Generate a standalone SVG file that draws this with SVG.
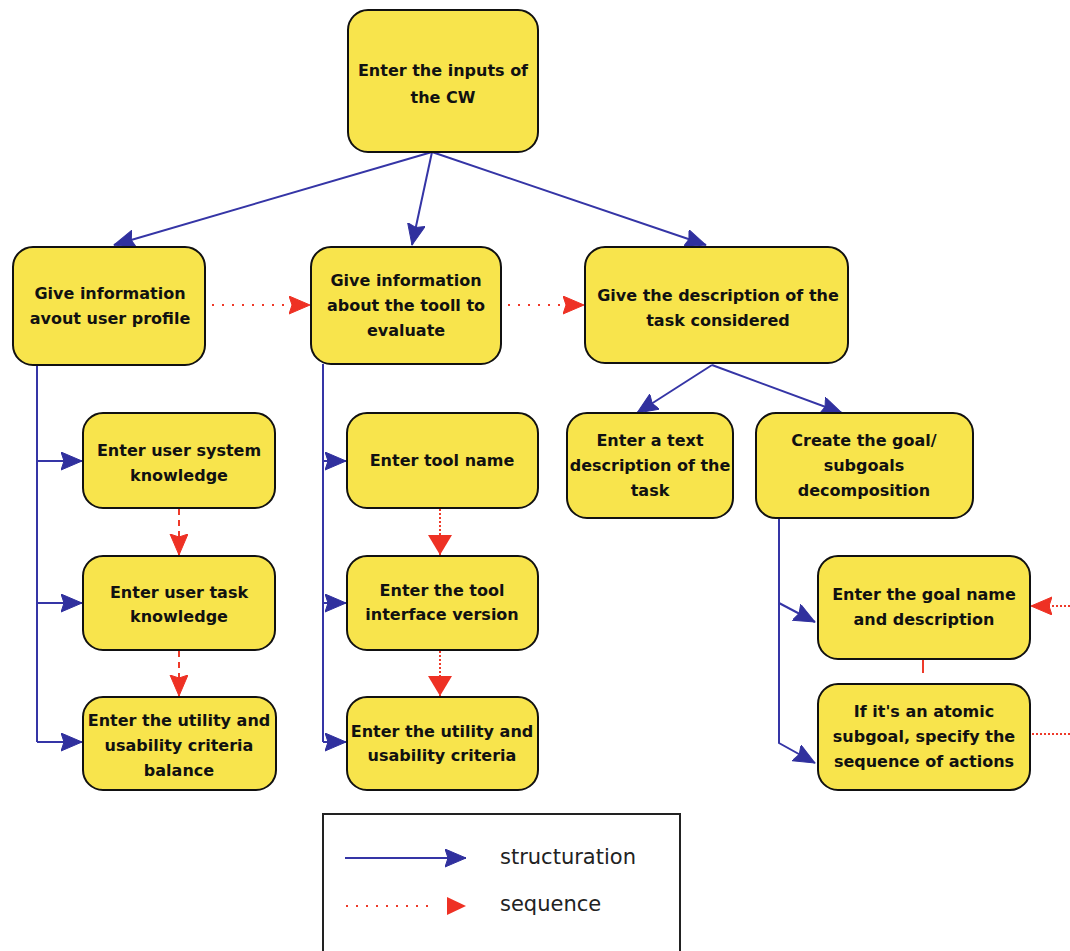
<svg xmlns="http://www.w3.org/2000/svg" width="1070" height="951" viewBox="0 0 1070 951">
  <style>
    .node rect { fill: #F8E44C; stroke: #111; stroke-width: 2; }
    .node text { font-family: "DejaVu Sans", Verdana, sans-serif; font-size: 16px; font-weight: bold; fill: #111; text-anchor: middle; }
    .struct { fill: none; stroke: #3535A6; stroke-width: 2; }
    .seq-dot { fill: none; stroke: #EE3A2A; stroke-width: 2; stroke-dasharray: 2 8; }
    .seq-dash { fill: none; stroke: #EE3A2A; stroke-width: 2; stroke-dasharray: 6 5; }
    .seq-fine { fill: none; stroke: #EE3A2A; stroke-width: 2; stroke-dasharray: 2 2; }
    .seq-solid { fill: none; stroke: #EE3A2A; stroke-width: 2; }
    .legend-text { font-family: "DejaVu Sans", Verdana, sans-serif; font-size: 21px; fill: #222; }
  </style>
  <defs>
    <marker id="blueHead" markerUnits="userSpaceOnUse" markerWidth="24" markerHeight="20" refX="21" refY="9" orient="auto">
      <path d="M0,0 L21,9 L0,18 L3,9 Z" fill="#30309E" stroke="#30309E" stroke-width="1" stroke-linejoin="round"/>
    </marker>
    <marker id="redHead" markerUnits="userSpaceOnUse" markerWidth="24" markerHeight="20" refX="21" refY="9" orient="auto">
      <path d="M0,0 L21,9 L0,18 L3,9 Z" fill="#EE3124" stroke="#EE3124" stroke-width="1" stroke-linejoin="round"/>
    </marker>
    <marker id="redHeadBig" markerUnits="userSpaceOnUse" markerWidth="22" markerHeight="26" refX="20" refY="12" orient="auto">
      <path d="M0,0 L20,12 L0,24 Z" fill="#EE3124"/>
    </marker>
  </defs>

  <!-- connectors -->
  <g id="connectors">
    <!-- top level structuration -->
    <line class="struct" x1="432" y1="152" x2="114" y2="245" marker-end="url(#blueHead)"/>
    <line class="struct" x1="432" y1="152" x2="412" y2="245" marker-end="url(#blueHead)"/>
    <line class="struct" x1="432" y1="152" x2="706" y2="245" marker-end="url(#blueHead)"/>
    <!-- sequence between the three main steps -->
    <line class="seq-dot" x1="212" y1="305" x2="310" y2="305" marker-end="url(#redHead)"/>
    <line class="seq-dot" x1="508" y1="305" x2="584" y2="305" marker-end="url(#redHead)"/>

    <!-- user profile column -->
    <line class="struct" x1="37" y1="365" x2="37" y2="742"/>
    <line class="struct" x1="37" y1="461" x2="82" y2="461" marker-end="url(#blueHead)"/>
    <line class="struct" x1="37" y1="603" x2="82" y2="603" marker-end="url(#blueHead)"/>
    <line class="struct" x1="37" y1="742" x2="82" y2="742" marker-end="url(#blueHead)"/>
    <line class="seq-dash" x1="179" y1="509" x2="179" y2="555" marker-end="url(#redHead)"/>
    <line class="seq-dash" x1="179" y1="651" x2="179" y2="696" marker-end="url(#redHead)"/>

    <!-- tool column -->
    <line class="struct" x1="323" y1="364" x2="323" y2="742"/>
    <line class="struct" x1="323" y1="461" x2="346" y2="461" marker-end="url(#blueHead)"/>
    <line class="struct" x1="323" y1="603" x2="346" y2="603" marker-end="url(#blueHead)"/>
    <line class="struct" x1="323" y1="742" x2="346" y2="742" marker-end="url(#blueHead)"/>
    <line class="seq-fine" x1="440" y1="509" x2="440" y2="555" marker-end="url(#redHeadBig)"/>
    <line class="seq-fine" x1="440" y1="651" x2="440" y2="696" marker-end="url(#redHeadBig)"/>

    <!-- task description -->
    <line class="struct" x1="712" y1="365" x2="637" y2="413" marker-end="url(#blueHead)"/>
    <line class="struct" x1="712" y1="365" x2="842" y2="413" marker-end="url(#blueHead)"/>

    <!-- goal decomposition -->
    <polyline class="struct" points="779,518 779,743 815,763" marker-end="url(#blueHead)"/>
    <polyline class="struct" points="779,603 815,622" marker-end="url(#blueHead)"/>
    <line class="seq-solid" x1="923" y1="659" x2="923" y2="673"/>
    <line class="seq-fine" x1="1070" y1="606" x2="1031" y2="606" marker-end="url(#redHead)"/>
    <line class="seq-fine" x1="1032" y1="734" x2="1070" y2="734"/>
  </g>

  <!-- nodes -->
  <g id="n-inputs" class="node">
    <rect x="348" y="10" width="190" height="142" rx="20"/>
    <text x="443" y="76">Enter the inputs of</text>
    <text x="443" y="103">the CW</text>
  </g>
  <g id="n-user-profile" class="node">
    <rect x="13" y="247" width="192" height="118" rx="20"/>
    <text x="110" y="299">Give information</text>
    <text x="110" y="324">avout user profile</text>
  </g>
  <g id="n-tool-info" class="node">
    <rect x="311" y="247" width="190" height="117" rx="20"/>
    <text x="406" y="286">Give information</text>
    <text x="406" y="311">about the tooll to</text>
    <text x="406" y="336">evaluate</text>
  </g>
  <g id="n-task-desc" class="node">
    <rect x="585" y="247" width="263" height="116" rx="20"/>
    <text x="718" y="301">Give the description of the</text>
    <text x="718" y="326">task considered</text>
  </g>

  <g id="n-system-knowledge" class="node">
    <rect x="83" y="413" width="192" height="95" rx="20"/>
    <text x="179" y="456">Enter user system</text>
    <text x="179" y="481">knowledge</text>
  </g>
  <g id="n-task-knowledge" class="node">
    <rect x="83" y="556" width="192" height="94" rx="20"/>
    <text x="179" y="598">Enter user task</text>
    <text x="179" y="622">knowledge</text>
  </g>
  <g id="n-criteria-balance" class="node">
    <rect x="83" y="697" width="193" height="93" rx="20"/>
    <text x="179" y="726">Enter the utility and</text>
    <text x="179" y="751">usability criteria</text>
    <text x="179" y="776">balance</text>
  </g>

  <g id="n-tool-name" class="node">
    <rect x="347" y="413" width="191" height="95" rx="20"/>
    <text x="442" y="466">Enter tool name</text>
  </g>
  <g id="n-tool-version" class="node">
    <rect x="347" y="556" width="191" height="94" rx="20"/>
    <text x="442" y="596">Enter the tool</text>
    <text x="442" y="620">interface version</text>
  </g>
  <g id="n-criteria" class="node">
    <rect x="347" y="697" width="191" height="93" rx="20"/>
    <text x="442" y="737">Enter the utility and</text>
    <text x="442" y="761">usability criteria</text>
  </g>

  <g id="n-text-desc" class="node">
    <rect x="567" y="413" width="166" height="105" rx="20"/>
    <text x="650" y="446">Enter a text</text>
    <text x="650" y="471">description of the</text>
    <text x="650" y="496">task</text>
  </g>
  <g id="n-goal-decomp" class="node">
    <rect x="756" y="413" width="217" height="105" rx="20"/>
    <text x="864" y="446">Create the goal/</text>
    <text x="864" y="471">subgoals</text>
    <text x="864" y="496">decomposition</text>
  </g>
  <g id="n-goal-name" class="node">
    <rect x="818" y="556" width="212" height="103" rx="20"/>
    <text x="924" y="600">Enter the goal name</text>
    <text x="924" y="625">and description</text>
  </g>
  <g id="n-atomic" class="node">
    <rect x="818" y="684" width="212" height="106" rx="20"/>
    <text x="924" y="717">If it's an atomic</text>
    <text x="924" y="742">subgoal, specify the</text>
    <text x="924" y="767">sequence of actions</text>
  </g>

  <!-- legend -->
  <g id="legend">
    <rect x="323" y="814" width="357" height="160" fill="#fff" stroke="#222" stroke-width="2"/>
    <line class="struct" x1="345" y1="858" x2="466" y2="858" marker-end="url(#blueHead)"/>
    <text class="legend-text" x="500" y="864">structuration</text>
    <line class="seq-dot" x1="346" y1="906" x2="430" y2="906"/>
    <path d="M447,897 L466,906 L447,915 Z" fill="#EE3124"/>
    <text class="legend-text" x="500" y="911">sequence</text>
  </g>
</svg>
